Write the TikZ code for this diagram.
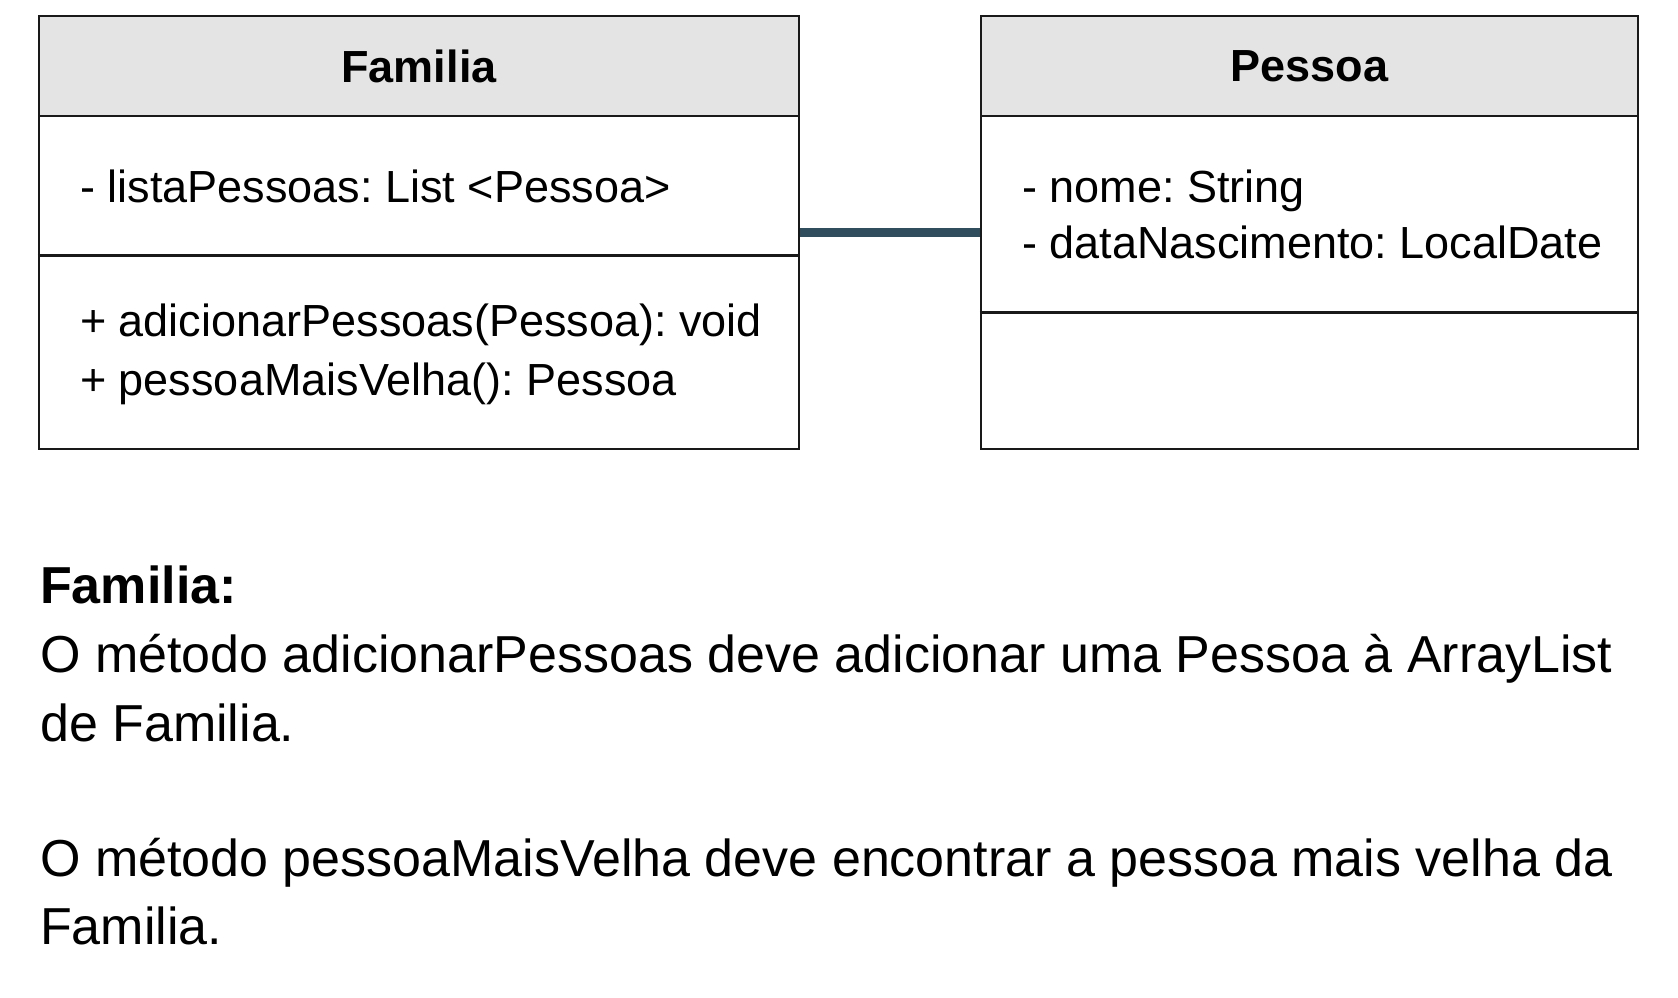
\documentclass[tikz,border=0pt]{standalone}
\usepackage{fontspec}
\setmainfont{Liberation Sans}
\frenchspacing
\definecolor{headgray}{RGB}{228,228,228}
\definecolor{linkslate}{RGB}{48,77,94}
\definecolor{boxline}{RGB}{25,25,25}
\tikzset{
    classbox/.style={draw=boxline, line width=2.5pt, inner sep=0pt, minimum height=433pt},
    classhead/.style={draw=boxline, fill=headgray, line width=2.5pt, inner sep=0pt, minimum height=100pt,
        anchor=north, font=\fontsize{45}{54}\selectfont\bfseries},
    member/.style={anchor=base west, inner sep=0pt, font=\fontsize{45}{54}\selectfont},
    note/.style={anchor=base west, inner sep=0pt, font=\fontsize{52}{62}\selectfont},
    sepline/.style={draw=boxline, line width=2.5pt},
    assoc/.style={draw=linkslate, line width=8.5pt}
}
\begin{document}
\begin{tikzpicture}[x=1pt, y=-1pt]
    \useasboundingbox (0,0) rectangle (1678,998);

    % class Familia
    \node[classbox, minimum width=760pt] (famBox) at (419,232.5) {};
    \node[classhead, minimum width=760pt] (famHead) at (famBox.north) {Familia};
    \draw[sepline] ([yshift=-138pt]famHead.south west) -- ([yshift=-138pt]famHead.south east);
    \node[member] (famAttrA) at (80,202) {- listaPessoas: List <Pessoa>};
    \node[member] (famOpA) at (80,336) {+ adicionarPessoas(Pessoa): void};
    \node[member] (famOpB) at (80,395) {+ pessoaMaisVelha(): Pessoa};

    % class Pessoa
    \node[classbox, minimum width=657pt] (pesBox) at (1309.5,232.5) {};
    \node[classhead, minimum width=657pt] (pesHead) at (pesBox.north) {Pessoa};
    \draw[sepline] ([yshift=-195pt]pesHead.south west) -- ([yshift=-195pt]pesHead.south east);
    \node[member] (pesAttrA) at (1022,202) {- nome: String};
    \node[member] (pesAttrB) at (1022,258) {- dataNascimento: LocalDate};

    % association
    \draw[assoc] (famBox.east) -- (pesBox.west);

    % notes
    \node[note, font=\fontsize{52}{62}\selectfont\bfseries] (noteHead) at (40,603) {Familia:};
    \node[note] (noteA1) at (40,672) {O método adicionarPessoas deve adicionar uma Pessoa à ArrayList};
    \node[note] (noteA2) at (40,741) {de Familia.};
    \node[note] (noteB1) at (40,876) {O método pessoaMaisVelha deve encontrar a pessoa mais velha da};
    \node[note] (noteB2) at (40,944) {Familia.};

\end{tikzpicture}
\end{document}
